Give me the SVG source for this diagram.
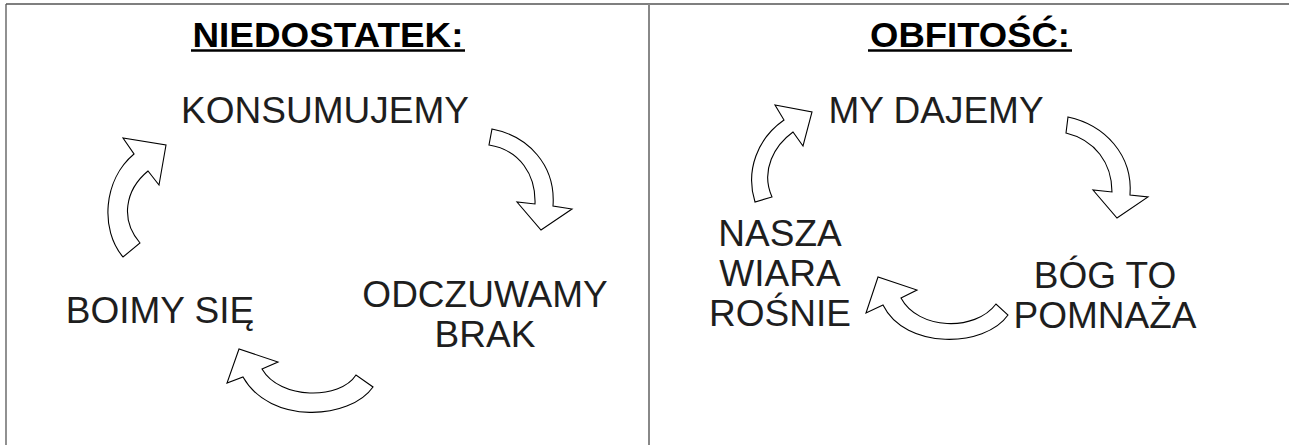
<svg xmlns="http://www.w3.org/2000/svg" width="1289" height="445" viewBox="0 0 1289 445">
<style>
.frame{stroke:#555;stroke-width:1.3;fill:none}
.div{stroke:#888;stroke-width:2;fill:none}
.title{font-family:"Liberation Sans",Arial,sans-serif;font-weight:bold;font-size:35px;fill:#000;text-anchor:middle}
.ul{stroke:#000;stroke-width:2.5}
.lbl{font-family:"Liberation Sans",Arial,sans-serif;font-size:37px;fill:#1e1e1e;text-anchor:middle}
.arr{fill:#fff;stroke:#000;stroke-width:1.1;stroke-linejoin:miter}
</style>
<rect width="1289" height="445" fill="#fff"/>
<g id="frame">
<line class="frame" x1="6" y1="4" x2="1289" y2="4"/>
<line class="frame" x1="6" y1="4" x2="6" y2="445"/>
<line class="div" x1="649" y1="4" x2="649" y2="445"/>
</g>
<g id="title-left">
<text class="title" x="328" y="47" textLength="271" lengthAdjust="spacingAndGlyphs">NIEDOSTATEK:</text>
<line class="ul" x1="191" y1="50.5" x2="465" y2="50.5"/>
</g>
<g id="title-right">
<text class="title" x="970" y="47" textLength="200" lengthAdjust="spacingAndGlyphs">OBFITOŚĆ:</text>
<line class="ul" x1="868" y1="50.5" x2="1072" y2="50.5"/>
</g>
<g id="konsumujemy"><text class="lbl" x="325" y="123">KONSUMUJEMY</text></g>
<g id="odczuwamy"><text class="lbl" x="485" y="307">ODCZUWAMY</text><text class="lbl" x="485" y="347">BRAK</text></g>
<g id="boimy"><text class="lbl" x="160" y="323">BOIMY SIĘ</text></g>
<g id="my-dajemy"><text class="lbl" x="936" y="123">MY DAJEMY</text></g>
<g id="bog"><text class="lbl" x="1105" y="288">BÓG TO</text><text class="lbl" x="1105" y="328">POMNAŻA</text></g>
<g id="nasza"><text class="lbl" x="780" y="246">NASZA</text><text class="lbl" x="780" y="286">WIARA</text><text class="lbl" x="780" y="326">ROŚNIE</text></g>
<g id="connectors">
<path class="arr" d="M123,257 C100,230 103,180 134,154 L123,138 L166,145 L159,185 L148,171 C125,190 120,220 140,243 Z"/>
<path class="arr" d="M492,129 C528,136 556,165 553,206 L572,209 L541,230 L517,202 L535,204 C536,175 520,150 489,145 Z"/>
<path class="arr" d="M373,387 C350,420 270,425 243,377 L227,383 L239,349 L278,362 L262,369 C280,400 340,400 356,375 Z"/>
<path class="arr" d="M755,202 C745,170 758,138 784,120 L775,105 L812,112 L803,146 L793,132 C775,145 760,170 772,197 Z"/>
<path class="arr" d="M1068,117 C1105,125 1133,155 1130,195 L1148,197 L1117,218 L1093,190 L1112,192 C1112,163 1095,140 1066,133 Z"/>
<path class="arr" d="M1008,315 C985,348 905,350 883,305 L866,313 L878,277 L917,290 L901,298 C918,330 975,332 996,304 Z"/>
</g>
</svg>
